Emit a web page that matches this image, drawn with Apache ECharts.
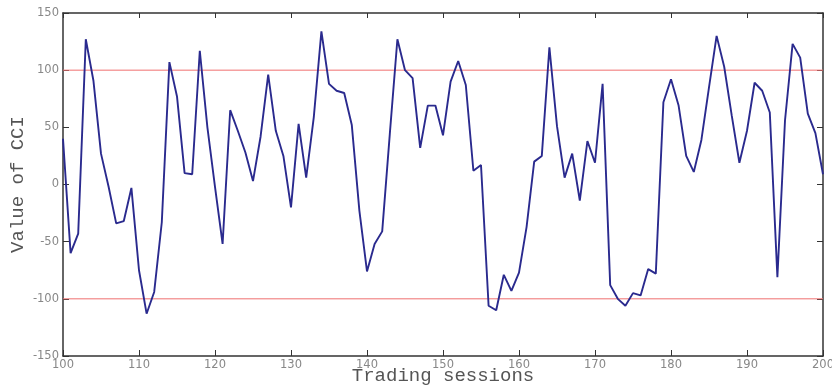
<!DOCTYPE html>
<html>
<head>
<meta charset="utf-8">
<script src="https://cdn.jsdelivr.net/npm/echarts@6/dist/echarts.min.js"></script>
<style>html,body{margin:0;padding:0;background:#fff}#c{width:832px;height:387px}</style>
</head>
<body>
<div id="c"></div>
<script>
var startSession = 100;
var cciValues = [40, -60, -43, 127, 91, 27, -2, -34, -32, -3,
  -75, -113, -94, -33, 107, 77, 10, 9, 117, 50,
  -2, -52, 65, 47, 28, 3, 42, 96, 47, 25,
  -20, 53, 6, 59, 134, 88, 82, 80, 52, -23,
  -76, -52, -41, 44, 127, 100, 93, 32, 69, 69,
  43, 90, 108, 87, 12, 17, -106, -110, -79, -93,
  -77, -37, 20, 25, 120, 51, 6, 27, -14, 38,
  19, 88, -88, -100, -106, -95, -97, -74, -78, 72,
  92, 69, 25, 11, 39, 85, 130, 103, 60, 19,
  47, 89, 82, 63, -81, 56, 123, 111, 62, 45, 9];
var thresholds = [100, -100];
var xTicks = [100, 110, 120, 130, 140, 150, 160, 170, 180, 190, 200];
var yTicks = [-150, -100, -50, 0, 50, 100, 150];

var seriesData = cciValues.map(function (v, i) { return [startSession + i, v]; });
var xMin = xTicks[0], xMax = xTicks[xTicks.length - 1];
var frameColor = '#333';
var redLine = '#f07070';
var labelStyle = { color: '#888', fontFamily: 'DejaVu Sans', fontSize: 11.5 };
var nameStyle = { color: '#555', fontFamily: 'Liberation Mono', fontSize: 19 };

var thresholdSeries = thresholds.map(function (t) {
  return {
    type: 'line',
    xAxisIndex: 0, yAxisIndex: 0,
    data: [[xMin, t], [xMax, t]],
    showSymbol: false, symbol: 'none', silent: true,
    lineStyle: { color: redLine, width: 1 },
    z: 2
  };
});

var chart = echarts.init(document.getElementById('c'), null, { renderer: 'canvas' });
chart.setOption({
  animation: false,
  backgroundColor: '#fff',
  grid: { left: 63, right: 9, top: 13, bottom: 31, containLabel: false, outerBoundsMode: 'none' },
  xAxis: [{
    type: 'value', min: xMin, max: xMax, interval: 10,
    position: 'bottom',
    name: 'Trading sessions', nameLocation: 'middle', nameGap: 10, nameMoveOverlap: false,
    nameTextStyle: Object.assign({ verticalAlign: 'top' }, nameStyle),
    axisLine: { show: true, onZero: false, lineStyle: { color: frameColor, width: 1.5 } },
    axisTick: { show: true, inside: true, length: 6, lineStyle: { color: frameColor } },
    axisLabel: Object.assign({ margin: 3 }, labelStyle),
    splitLine: { show: false }
  }, {
    type: 'value', min: xMin, max: xMax, interval: 10,
    position: 'top',
    axisLine: { show: true, onZero: false, lineStyle: { color: frameColor, width: 1.5 } },
    axisTick: { show: true, inside: true, length: 5, lineStyle: { color: frameColor } },
    axisLabel: { show: false },
    splitLine: { show: false }
  }],
  yAxis: [{
    type: 'value', min: yTicks[0], max: yTicks[yTicks.length - 1], interval: 50,
    position: 'left',
    name: 'Value of CCI', nameLocation: 'middle', nameGap: 36, nameMoveOverlap: false,
    nameTextStyle: nameStyle,
    axisLine: { show: true, onZero: false, lineStyle: { color: frameColor, width: 1.5 } },
    axisTick: { show: true, inside: true, length: 6, lineStyle: { color: frameColor } },
    axisLabel: Object.assign({ margin: 4 }, labelStyle),
    splitLine: { show: false }
  }, {
    type: 'value', min: yTicks[0], max: yTicks[yTicks.length - 1], interval: 50,
    position: 'right',
    axisLine: { show: true, onZero: false, lineStyle: { color: frameColor, width: 1.5 } },
    axisTick: { show: true, inside: true, length: 6, lineStyle: { color: frameColor } },
    axisLabel: { show: false },
    splitLine: { show: false }
  }],
  series: thresholdSeries.concat([{
    type: 'line',
    xAxisIndex: 0, yAxisIndex: 0,
    data: seriesData,
    showSymbol: false,
    symbol: 'none',
    lineStyle: { color: '#2a2a8e', width: 1.9 },
    z: 3
  }])
});
</script>
</body>
</html>
